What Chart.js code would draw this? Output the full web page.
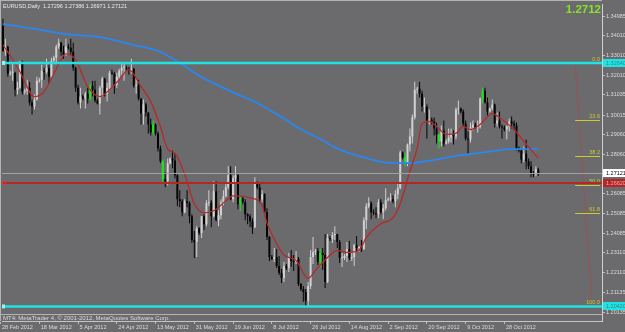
<!DOCTYPE html>
<html><head><meta charset="utf-8">
<script src="https://cdn.jsdelivr.net/npm/chart.js@4.4.1/dist/chart.umd.min.js"></script>
<style>
html,body{margin:0;padding:0;background:#6b6b6e;overflow:hidden;}
canvas{display:block;}
</style></head><body>
<canvas id="chart" width="625" height="332"></canvas>
<script>
// ---------- data ----------
const symbolName = 'EURUSD,Daily';
const copyrightText = 'MT4: MetaTrader 4, © 2001-2012, MetaQuotes Software Corp.';
const xTickLabels = ['28 Feb 2012','18 Mar 2012','5 Apr 2012','24 Apr 2012','13 May 2012','31 May 2012','19 Jun 2012','8 Jul 2012','26 Jul 2012','14 Aug 2012','2 Sep 2012','20 Sep 2012','9 Oct 2012','28 Oct 2012'];
const xTickBars = [0,16,32,48,64,80,96,112,128,144,160,176,192,208];
const yTickValues = [1.34985,1.34010,1.33010,1.32010,1.31035,1.30015,1.29060,1.28060,1.27060,1.26085,1.25085,1.24085,1.23110,1.22110,1.21135,1.20135];

const opens = [
1.3440,1.3450,1.3325,1.3345,1.3210,1.3215,1.3215,1.3130,1.3140,1.3265,
1.3120,1.3125,1.3140,1.3065,1.3045,1.3080,1.3175,1.3180,1.3225,1.3220,
1.3240,1.3195,1.3275,1.3290,1.3345,1.3365,1.3320,1.3305,1.3345,1.3340,
1.3320,1.3240,1.3140,1.3065,1.3095,1.3085,1.3110,1.3085,1.3150,1.3130,
1.3075,1.3060,1.3140,1.3185,1.3110,1.3140,1.3215,1.3210,1.3155,1.3195,
1.3225,1.3240,1.3240,1.3235,1.3230,1.3235,1.3150,1.3155,1.3085,1.3010,
1.3055,1.3015,1.2955,1.2915,1.2955,1.2910,1.2835,1.2770,1.2680,1.2670,
1.2760,1.2785,1.2775,1.2700,1.2580,1.2570,1.2515,1.2570,1.2560,1.2495,
1.2375,1.2365,1.2435,1.2410,1.2495,1.2455,1.2560,1.2565,1.2495,1.2620,
1.2475,1.2500,1.2565,1.2595,1.2640,1.2700,1.2580,1.2685,1.2700,1.2555,
1.2585,1.2565,1.2505,1.2495,1.2470,1.2440,1.2665,1.2640,1.2580,1.2605,
1.2515,1.2390,1.2290,1.2280,1.2290,1.2245,1.2210,1.2185,1.2245,1.2235,
1.2290,1.2270,1.2265,1.2280,1.2155,1.2130,1.2115,1.2070,1.2145,1.2290,
1.2315,1.2320,1.2265,1.2310,1.2300,1.2165,1.2385,1.2380,1.2400,1.2405,
1.2365,1.2285,1.2285,1.2295,1.2330,1.2285,1.2290,1.2350,1.2335,1.2340,
1.2330,1.2475,1.2545,1.2560,1.2515,1.2510,1.2505,1.2565,1.2515,1.2535,
1.2575,1.2580,1.2580,1.2570,1.2605,1.2635,1.2815,1.2790,1.2765,1.2855,
1.2895,1.2990,1.3130,1.3135,1.3110,1.3045,1.3045,1.2975,1.2980,1.2970,
1.2935,1.2905,1.2870,1.2925,1.2860,1.2870,1.2890,1.2905,1.2895,1.3030,
1.3035,1.3020,1.2960,1.2885,1.2880,1.2940,1.2955,1.2940,1.2945,1.3085,
1.3125,1.3065,1.3020,1.3035,1.3055,1.2960,1.2975,1.2945,1.2940,1.2930,
1.2945,1.2970,1.2960,1.2950,1.2835,1.2825,1.2780,1.2810,1.2770,1.2745,
1.2710,1.2705,1.27296];
const highs = [
1.3470,1.3486,1.3385,1.3350,1.3225,1.3260,1.3220,1.3170,1.3275,1.3275,
1.3135,1.3180,1.3170,1.3080,1.3105,1.3195,1.3190,1.3255,1.3240,1.3285,
1.3255,1.3290,1.3300,1.3355,1.3385,1.3370,1.3350,1.3385,1.3360,1.3385,
1.3365,1.3245,1.3155,1.3140,1.3105,1.3120,1.3140,1.3160,1.3175,1.3175,
1.3085,1.3150,1.3195,1.3190,1.3165,1.3225,1.3230,1.3220,1.3215,1.3235,
1.3265,1.3265,1.3250,1.3245,1.3285,1.3240,1.3185,1.3180,1.3085,1.3080,
1.3065,1.3015,1.2985,1.2975,1.2960,1.2920,1.2850,1.2780,1.2715,1.2785,
1.2790,1.2825,1.2810,1.2705,1.2625,1.2580,1.2580,1.2625,1.2570,1.2505,
1.2420,1.2445,1.2440,1.2495,1.2505,1.2575,1.2625,1.2575,1.2670,1.2670,
1.2525,1.2580,1.2625,1.2665,1.2745,1.2745,1.2700,1.2745,1.2705,1.2595,
1.2590,1.2580,1.2510,1.2505,1.2485,1.2690,1.2670,1.2665,1.2625,1.2610,
1.2535,1.2395,1.2300,1.2335,1.2330,1.2295,1.2230,1.2265,1.2255,1.2310,
1.2325,1.2300,1.2320,1.2290,1.2160,1.2145,1.2130,1.2165,1.2325,1.2390,
1.2330,1.2335,1.2330,1.2335,1.2405,1.2405,1.2395,1.2415,1.2445,1.2405,
1.2375,1.2310,1.2305,1.2365,1.2370,1.2315,1.2355,1.2395,1.2345,1.2375,
1.2490,1.2560,1.2590,1.2570,1.2530,1.2540,1.2580,1.2580,1.2555,1.2635,
1.2590,1.2610,1.2600,1.2625,1.2665,1.2825,1.2820,1.2815,1.2860,1.2935,
1.3005,1.3170,1.3145,1.3170,1.3125,1.3090,1.3055,1.3030,1.2990,1.2990,
1.2965,1.2910,1.2950,1.2975,1.2880,1.2935,1.2935,1.2925,1.3040,1.3075,
1.3040,1.3030,1.2975,1.2920,1.2965,1.2975,1.2965,1.2975,1.3090,1.3140,
1.3140,1.3090,1.3040,1.3080,1.3060,1.3015,1.3020,1.2955,1.2950,1.2950,
1.2985,1.2995,1.2975,1.2965,1.2845,1.2830,1.2845,1.2880,1.2785,1.2770,
1.2720,1.2745,1.27386];
const lows = [
1.3390,1.3320,1.3300,1.3195,1.3200,1.3175,1.3095,1.3105,1.3135,1.3105,
1.3105,1.3105,1.3050,1.3005,1.3030,1.3075,1.3165,1.3140,1.3180,1.3210,
1.3160,1.3190,1.3270,1.3265,1.3335,1.3300,1.3285,1.3300,1.3330,1.3305,
1.3225,1.3120,1.3055,1.3035,1.3075,1.3035,1.3060,1.3075,1.3095,1.3065,
1.3055,1.3005,1.3095,1.3095,1.3070,1.3125,1.3205,1.3110,1.3140,1.3180,
1.3205,1.3175,1.3225,1.3205,1.3210,1.3140,1.3110,1.3075,1.2955,1.2955,
1.2995,1.2910,1.2900,1.2905,1.2900,1.2820,1.2760,1.2665,1.2640,1.2650,
1.2755,1.2735,1.2685,1.2545,1.2540,1.2495,1.2510,1.2540,1.2460,1.2360,
1.2285,1.2290,1.2400,1.2385,1.2425,1.2445,1.2545,1.2440,1.2490,1.2470,
1.2445,1.2480,1.2550,1.2590,1.2630,1.2575,1.2565,1.2665,1.2530,1.2520,
1.2555,1.2475,1.2455,1.2440,1.2405,1.2435,1.2630,1.2565,1.2565,1.2505,
1.2375,1.2270,1.2275,1.2265,1.2235,1.2200,1.2160,1.2165,1.2225,1.2215,
1.2240,1.2220,1.2255,1.2145,1.2120,1.2065,1.2042,1.2045,1.2130,1.2255,
1.2300,1.2250,1.2240,1.2225,1.2135,1.2160,1.2370,1.2360,1.2375,1.2335,
1.2260,1.2240,1.2275,1.2265,1.2275,1.2270,1.2245,1.2320,1.2315,1.2315,
1.2325,1.2430,1.2535,1.2480,1.2500,1.2485,1.2485,1.2505,1.2480,1.2525,
1.2570,1.2570,1.2560,1.2540,1.2580,1.2630,1.2780,1.2745,1.2745,1.2820,
1.2860,1.2980,1.3110,1.3090,1.3020,1.3015,1.2885,1.2955,1.2955,1.2900,
1.2860,1.2835,1.2845,1.2845,1.2855,1.2860,1.2865,1.2855,1.2880,1.3005,
1.3010,1.2945,1.2875,1.2805,1.2865,1.2925,1.2935,1.2915,1.2935,1.3060,
1.3060,1.3000,1.3015,1.3025,1.2940,1.2945,1.2935,1.2885,1.2920,1.2880,
1.2920,1.2935,1.2925,1.2825,1.2815,1.2760,1.2765,1.2730,1.2730,1.2690,
1.2690,1.2695,1.26971];
const closes = [
1.3450,1.3325,1.3345,1.3210,1.3215,1.3215,1.3130,1.3140,1.3265,1.3120,
1.3125,1.3140,1.3065,1.3045,1.3080,1.3175,1.3180,1.3225,1.3220,1.3240,
1.3195,1.3275,1.3290,1.3345,1.3365,1.3320,1.3305,1.3345,1.3340,1.3320,
1.3240,1.3140,1.3065,1.3095,1.3085,1.3110,1.3085,1.3150,1.3130,1.3075,
1.3060,1.3140,1.3185,1.3110,1.3140,1.3215,1.3210,1.3155,1.3195,1.3225,
1.3240,1.3240,1.3235,1.3230,1.3235,1.3150,1.3155,1.3085,1.3010,1.3055,
1.3015,1.2955,1.2915,1.2955,1.2910,1.2835,1.2770,1.2680,1.2670,1.2760,
1.2785,1.2775,1.2700,1.2580,1.2570,1.2515,1.2570,1.2560,1.2495,1.2375,
1.2365,1.2435,1.2410,1.2495,1.2455,1.2560,1.2565,1.2495,1.2620,1.2475,
1.2500,1.2565,1.2595,1.2640,1.2700,1.2580,1.2685,1.2700,1.2555,1.2585,
1.2565,1.2505,1.2495,1.2470,1.2440,1.2665,1.2640,1.2580,1.2605,1.2515,
1.2390,1.2290,1.2280,1.2290,1.2245,1.2210,1.2185,1.2245,1.2235,1.2290,
1.2270,1.2265,1.2280,1.2155,1.2130,1.2115,1.2070,1.2145,1.2290,1.2315,
1.2320,1.2265,1.2310,1.2300,1.2165,1.2385,1.2380,1.2400,1.2405,1.2365,
1.2285,1.2285,1.2295,1.2330,1.2285,1.2290,1.2350,1.2335,1.2340,1.2330,
1.2475,1.2545,1.2560,1.2515,1.2510,1.2505,1.2565,1.2515,1.2535,1.2575,
1.2580,1.2580,1.2570,1.2605,1.2635,1.2815,1.2790,1.2765,1.2855,1.2895,
1.2990,1.3130,1.3135,1.3110,1.3045,1.3045,1.2975,1.2980,1.2970,1.2935,
1.2905,1.2870,1.2925,1.2860,1.2870,1.2890,1.2905,1.2895,1.3030,1.3035,
1.3020,1.2960,1.2885,1.2880,1.2940,1.2955,1.2940,1.2945,1.3085,1.3125,
1.3065,1.3020,1.3035,1.3055,1.2960,1.2975,1.2945,1.2940,1.2930,1.2945,
1.2970,1.2960,1.2950,1.2835,1.2825,1.2780,1.2810,1.2770,1.2745,1.2710,
1.2705,1.2730,1.27121];
const greenBars = [37,63,67,99,132,167,181,199];

const redMaBars = [1,4,8,14,18,22,27,31,36,41,45,49,53,58,62,66,69,72,76,80,84,88,93,96,103,108,110,113,117,122,127,130,135,139,143,148,151,157,162,165,169,172,174,177,180,184,188,191,194,198,203,207,212,216,222];
const redMaValues = [1.3354,1.3300,1.3220,1.3095,1.3120,1.3210,1.3309,1.3279,1.3145,1.3095,1.3130,1.3180,1.3230,1.3145,1.3070,1.2945,1.2831,1.2811,1.2706,1.2557,1.2512,1.2522,1.2572,1.2597,1.2587,1.2547,1.2460,1.2380,1.2300,1.2273,1.2183,1.2223,1.2288,1.2323,1.2313,1.2323,1.2388,1.2457,1.2487,1.2557,1.2721,1.2836,1.2960,1.2970,1.2945,1.2906,1.2911,1.2945,1.2930,1.2955,1.3010,1.2980,1.2930,1.2871,1.2786];
const blueMaBars = [1,14,27,41,55,65,74,82,91,98,103,108,112,117,122,128,133,137,144,151,158,165,169,176,183,190,197,203,210,216,222];
const blueMaValues = [1.3460,1.3435,1.3409,1.3394,1.3354,1.3324,1.3264,1.3200,1.3145,1.3105,1.3080,1.3050,1.3020,1.2985,1.2945,1.2906,1.2876,1.2846,1.2811,1.2786,1.2766,1.2761,1.2761,1.2771,1.2786,1.2801,1.2811,1.2821,1.2831,1.2831,1.2831];

const fibLevels = [0, 23.6, 38.2, 50, 61.8, 100];
const fibBars = [237.2, 244.2];
const fibPrices = [1.3264, 1.2042];
const cyanLevels = [1.3264, 1.2042];
const redLevels = [1.2662];

// ---------- styles ----------
const BG = '#6b6b6e';
const FONT = "'Liberation Sans', Arial, sans-serif";
const BULL = '#d0d0d0', BEAR = '#050505', GREEN = '#10f010';
const CYAN = '#20e2e2', REDL = '#b52626', FIB = '#cccc2a';
const last = closes.length - 1;
const idx = closes.map((_, i) => i);
const isGreen = i => greenBars.includes(i);
const candleColor = i => isGreen(i) ? GREEN : (closes[i] >= opens[i] ? BULL : BEAR);

Chart.defaults.font.family = FONT;

const overlay = {
  id: 'overlay',
  beforeDraw(chart) {
    const ctx = chart.ctx;
    ctx.save(); ctx.fillStyle = BG; ctx.fillRect(0, 0, chart.width, chart.height); ctx.restore();
  },
  afterDatasetsDraw(chart) {
    const {ctx, chartArea: a, scales: {x, y}} = chart;
    ctx.save();
    ctx.beginPath(); ctx.rect(a.left, a.top, a.right - a.left, a.bottom - a.top); ctx.clip();
    const snap = v => Math.round(v) + 0.5;
    // fibo levels
    const fx0 = x.getPixelForValue(fibBars[0]);
    ctx.font = '5.5px ' + FONT; ctx.textAlign = 'right'; ctx.textBaseline = 'bottom';
    fibLevels.forEach(l => {
      const p = fibPrices[0] + (fibPrices[1] - fibPrices[0]) * l / 100;
      const py = snap(y.getPixelForValue(p));
      ctx.strokeStyle = FIB; ctx.lineWidth = 1;
      ctx.beginPath(); ctx.moveTo(fx0, py); ctx.lineTo(a.right - 2, py); ctx.stroke();
      ctx.fillStyle = FIB; ctx.fillText(l.toFixed(1), a.right - 2, py - 1);
    });
    // bid line
    const by = snap(y.getPixelForValue(closes[last]));
    ctx.strokeStyle = '#a2a2a2'; ctx.lineWidth = 1;
    ctx.beginPath(); ctx.moveTo(a.left, by); ctx.lineTo(a.right, by); ctx.stroke();
    // red levels
    redLevels.forEach(v => {
      const py = y.getPixelForValue(v);
      ctx.strokeStyle = REDL; ctx.lineWidth = 2;
      ctx.beginPath(); ctx.moveTo(a.left, py); ctx.lineTo(a.right, py); ctx.stroke();
      ctx.strokeStyle = '#d04040'; ctx.lineWidth = 1; ctx.strokeRect(a.left + 0.5, py - 1.5, 3, 3);
    });
    // cyan levels
    cyanLevels.forEach(v => {
      const py = y.getPixelForValue(v);
      ctx.strokeStyle = CYAN; ctx.lineWidth = 2.5;
      ctx.beginPath(); ctx.moveTo(a.left, py); ctx.lineTo(a.right, py); ctx.stroke();
      ctx.fillStyle = '#8ff4f4'; ctx.fillRect(a.left, py - 2, 3, 4);
    });
    ctx.restore();
  },
  afterDraw(chart) {
    const {ctx, chartArea: a, scales: {y}} = chart;
    ctx.save();
    // frame lines
    ctx.fillStyle = '#b4b4b4';
    ctx.fillRect(0, 0, a.right, 1);
    ctx.fillRect(0, 0, 1, a.bottom);
    ctx.fillRect(0, 314, a.right, 1);
    // price boxes on the right scale
    const box = (v, bg, fg) => {
      const py = Math.round(y.getPixelForValue(v));
      ctx.fillStyle = bg; ctx.fillRect(a.right + 1, py - 4, chart.width - a.right, 8);
      ctx.fillStyle = fg; ctx.font = '5.5px ' + FONT; ctx.textAlign = 'left'; ctx.textBaseline = 'middle';
      ctx.fillText(v.toFixed(5), a.right + 4, py + 0.5);
    };
    cyanLevels.forEach(v => box(v, CYAN, '#2c8c8c'));
    redLevels.forEach(v => box(v, REDL, '#f0a8a8'));
    box(closes[last], '#ffffff', '#000000');
    // title
    ctx.fillStyle = '#e8e8e8'; ctx.font = '5.5px ' + FONT; ctx.textAlign = 'left'; ctx.textBaseline = 'middle';
    ctx.fillText(symbolName + '  ' + opens[last].toFixed(5) + ' ' + highs[last].toFixed(5) + ' ' + lows[last].toFixed(5) + ' ' + closes[last].toFixed(5), 3, 6);
    // big price
    ctx.fillStyle = '#84e22c'; ctx.font = 'bold 11.5px ' + FONT; ctx.textAlign = 'right'; ctx.textBaseline = 'middle';
    ctx.fillText(closes[last].toFixed(4), a.right - 1, 10);
    // copyright
    ctx.fillStyle = '#dadada'; ctx.font = '6px ' + FONT; ctx.textAlign = 'left'; ctx.textBaseline = 'middle';
    ctx.fillText(copyrightText, 3, 318);
    ctx.restore();
  }
};

const candleBase = {
  type: 'bar', grouped: false, categoryPercentage: 1, barPercentage: 1,
  borderWidth: 0, inflateAmount: 0
};

new Chart(document.getElementById('chart'), {
  type: 'bar',
  data: {
    datasets: [
      { type: 'line', label: 'MA fast', data: redMaBars.map((b, i) => ({x: b, y: redMaValues[i]})),
        borderColor: '#b52a2a', borderWidth: 1.3, pointRadius: 0, cubicInterpolationMode: 'monotone', order: 0 },
      { type: 'line', label: 'MA slow', data: blueMaBars.map((b, i) => ({x: b, y: blueMaValues[i]})),
        borderColor: '#2a86f0', borderWidth: 1.8, pointRadius: 0, cubicInterpolationMode: 'monotone', order: 0 },
      { type: 'line', label: 'Fibo base', data: fibBars.map((b, i) => ({x: b, y: fibPrices[i]})),
        borderColor: '#c83a3a', borderWidth: 1, borderDash: [2, 2], pointRadius: 0, order: 0 },
      Object.assign({}, candleBase, { label: 'wick', data: idx.map(i => ({x: i, y: [lows[i], highs[i]]})),
        backgroundColor: idx.map(candleColor), maxBarThickness: 1, order: 2 }),
      Object.assign({}, candleBase, { label: 'body', data: idx.map(i => ({x: i, y: [opens[i], closes[i]]})),
        backgroundColor: idx.map(candleColor), maxBarThickness: 2, minBarLength: 1, order: 1 })
    ]
  },
  options: {
    responsive: false, animation: false, devicePixelRatio: 1, events: [],
    layout: { padding: { left: 2, top: 2, right: 0, bottom: 0 } },
    plugins: { legend: { display: false }, tooltip: { enabled: false }, title: { display: false } },
    scales: {
      x: {
        type: 'linear', min: 0.6, max: 248.3, offset: false,
        grid: { offset: false, drawOnChartArea: false, drawTicks: true, tickLength: 3, color: '#bdbdbd' },
        border: { display: true, color: '#c4c4c4' },
        afterBuildTicks: s => { s.ticks = xTickBars.map(v => ({value: v})); },
        afterFit: s => { s.height = 11; },
        ticks: { autoSkip: false, maxRotation: 0, minRotation: 0, align: 'start', padding: 0, labelOffset: 1.5,
          color: '#dcdcdc', font: { size: 5.5 }, callback: (v, i) => xTickLabels[i] }
      },
      y: {
        type: 'linear', position: 'right', min: 1.19689, max: 1.35583,
        grid: { drawOnChartArea: false, drawTicks: true, tickLength: 3, color: '#bdbdbd' },
        border: { display: true, color: '#d0d0d0' },
        afterBuildTicks: s => { s.ticks = yTickValues.map(v => ({value: v})); },
        afterFit: s => { s.width = 23; },
        ticks: { autoSkip: false, padding: 1, color: '#dcdcdc', font: { size: 5.5 }, callback: v => v.toFixed(5) }
      }
    }
  },
  plugins: [overlay]
});
</script>
</body></html>
